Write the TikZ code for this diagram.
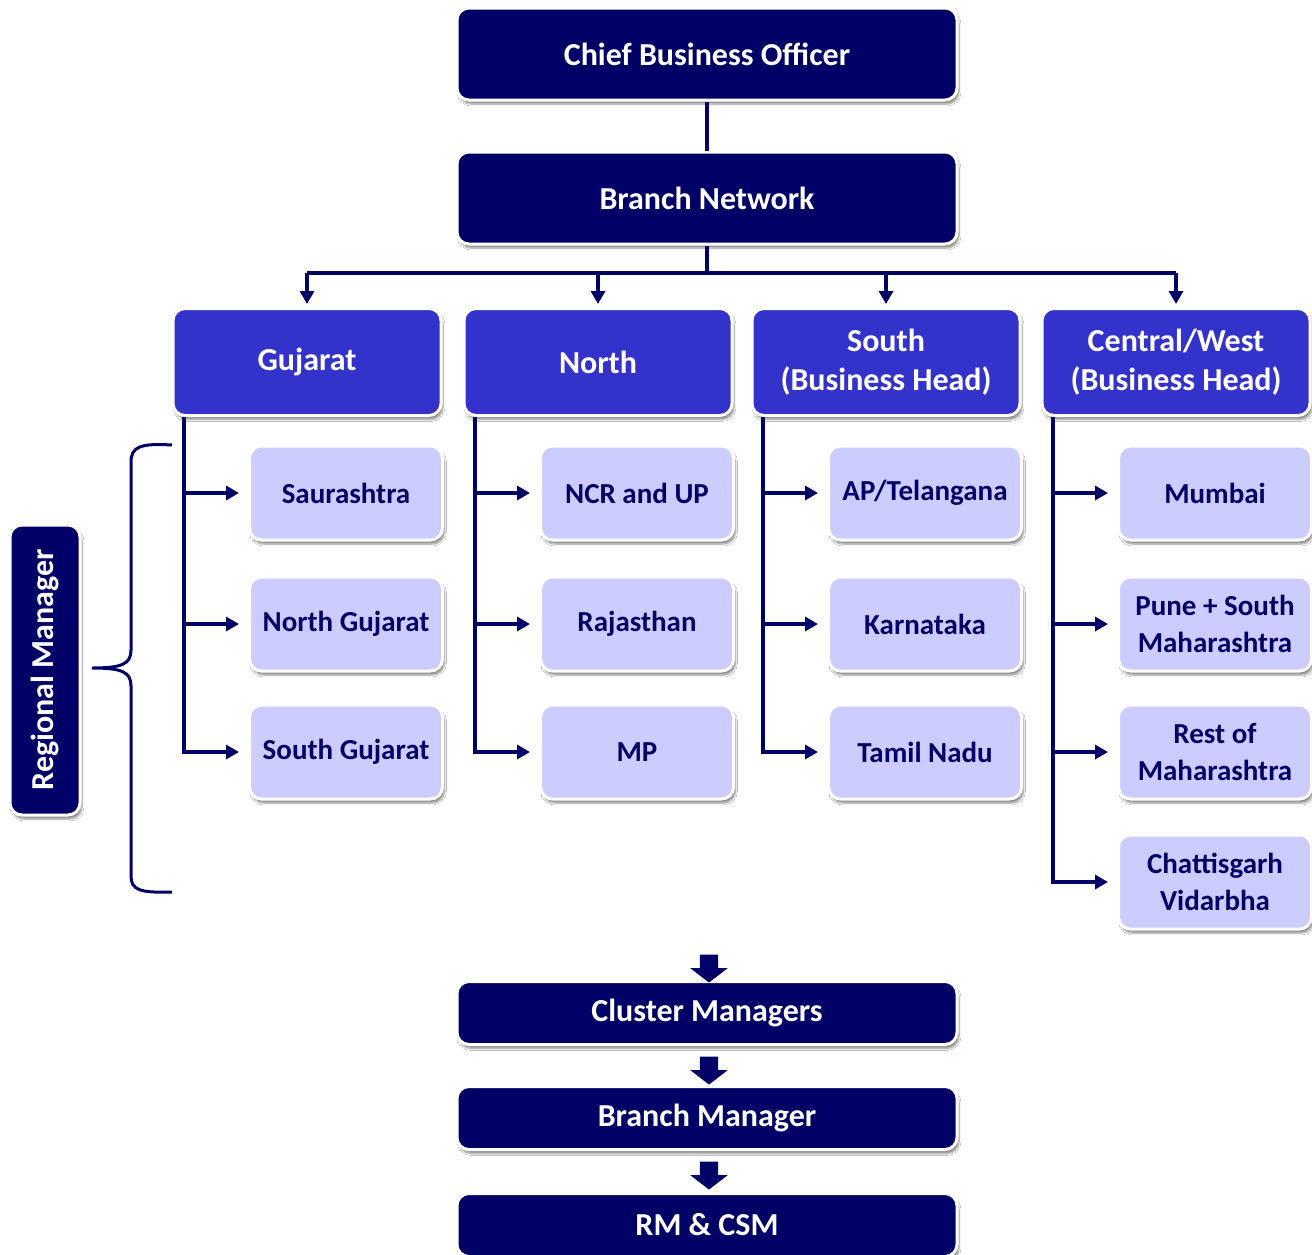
\documentclass[tikz,border=0pt]{standalone}
\usepackage{fontspec}
\setmainfont{Carlito}
\usetikzlibrary{arrows.meta,shadows.blur,shapes.arrows}
\definecolor{cbnavy}{HTML}{000066}
\definecolor{cbblue}{HTML}{3333CC}
\definecolor{cblilac}{HTML}{CCCCFF}
\newcommand\boxfont{\fontsize{32}{39}\selectfont\bfseries}
\newcommand\areafont{\fontsize{29}{37}\selectfont\bfseries}

\begin{document}
\begin{tikzpicture}[x=1pt,y=-1pt,
  card/.style={rounded corners=12pt, draw=white, line width=3pt, font=\boxfont, align=center, inner sep=0pt,
    blur shadow={shadow xshift=2pt, shadow yshift=-4pt, shadow blur steps=6, shadow opacity=45}},
  topbox/.style={card, fill=cbnavy, text=white, minimum width=500pt, minimum height=92pt},
  lowbox/.style={card, fill=cbnavy, text=white, minimum width=500pt, minimum height=63pt},
  headbox/.style={card, fill=cbblue, text=white, minimum width=268pt, minimum height=107pt},
  areabox/.style={card, fill=cblilac, text=cbnavy, font=\areafont, minimum width=193pt, minimum height=94pt},
  wire/.style={draw=cbnavy, line width=3.5pt},
  link/.style={wire, -{Triangle[length=13pt,width=14pt]}},
  blockarrow/.style={single arrow, fill=cbnavy, rotate=-90, inner xsep=0pt, inner ysep=9pt,
    minimum height=28pt, single arrow head extend=9.5pt, single arrow tip angle=105}]
\useasboundingbox[fill=white] (0.00, 0.00) rectangle (1312.00, 1254.00);
% Drawing boxes
% Row 1: top of the chart
\node[topbox] (cbo) at (707.00, 54.00) {Chief Business Officer};
\node[topbox] (bnet) at (707.00, 198.00) {Branch Network};
% Row 2: business heads
\node[headbox] (guj) at (307.00, 362.00) {Gujarat};
\node[headbox] (north) at (598.00, 362.00) {North};
\node[headbox] (south) at (886.00, 362.00) {South\\(Business Head)};
\node[headbox] (cwest) at (1176.00, 362.00) {Central/West\\(Business Head)};
% Row 3: regions
\node[areabox] (saur) at (346.00, 493.00) {Saurashtra};
\node[areabox] (ngu) at (346.00, 624.00) {North Gujarat};
\node[areabox] (sgu) at (346.00, 752.00) {South Gujarat};
\node[areabox] (ncr) at (637.00, 493.00) {NCR and UP};
\node[areabox] (raj) at (637.00, 624.00) {Rajasthan};
\node[areabox] (mp) at (637.00, 752.00) {MP};
\node[areabox] (ap) at (925.00, 493.00) {AP/Telangana};
\node[areabox] (kar) at (925.00, 624.00) {Karnataka};
\node[areabox] (tn) at (925.00, 752.00) {Tamil Nadu};
\node[areabox] (mum) at (1215.00, 493.00) {Mumbai};
\node[areabox] (pune) at (1215.00, 624.00) {Pune + South\\Maharashtra};
\node[areabox] (rest) at (1215.00, 752.00) {Rest of\\Maharashtra};
\node[areabox] (chat) at (1215.00, 882.00) {Chattisgarh\\Vidarbha};
\node[card, fill=cbnavy, text=white, rotate=90, minimum width=290pt, minimum height=70pt] (rm) at (45.00, 670.00) {Regional Manager};
% Row 4: down to the branches
\node[lowbox] (clus) at (707.00, 1013.00) {Cluster Managers};
\node[lowbox] (bman) at (707.00, 1118.00) {Branch Manager};
\node[lowbox] (rmcsm) at (707.00, 1225.00) {RM \& CSM};
\node[blockarrow] (down1) at (709.00, 965.00) {};
\node[blockarrow] (down2) at (709.00, 1067.00) {};
\node[blockarrow] (down3) at (709.00, 1172.00) {};
% Done with boxes; drawing connectors
\coordinate (bus) at (707.00, 273.00);
\draw[wire] (cbo) -- (bnet);
\draw[wire] (bnet) -- (bus);
\draw[wire] (bus -| guj) -- (bus -| cwest);
\foreach \h in {guj,north,south,cwest}
  \draw[link, shorten >=3pt] (bus -| \h) -- (\h.north);
\foreach \h/\a in {guj/saur,guj/ngu,guj/sgu,north/ncr,north/raj,north/mp,south/ap,south/kar,south/tn,cwest/mum,cwest/pune,cwest/rest,cwest/chat}
  \draw[link, shorten >=9pt] ([xshift=12.5pt]\h.south west) |- (\a);
% Done with connectors; drawing the brace
\draw[wire, line width=3pt] (172.00, 445.00) .. controls (140.00, 443.00) and (131.00, 447.00) .. (131.00, 462.00)
  -- (131.00, 650.00) .. controls (131.00, 664.00) and (122.00, 668.00) .. (92.00, 668.00)
  .. controls (122.00, 668.00) and (131.00, 672.00) .. (131.00, 686.00)
  -- (131.00, 876.00) .. controls (131.00, 890.00) and (140.00, 893.00) .. (172.00, 892.00);
% Done with the brace
\end{tikzpicture}
\end{document}
